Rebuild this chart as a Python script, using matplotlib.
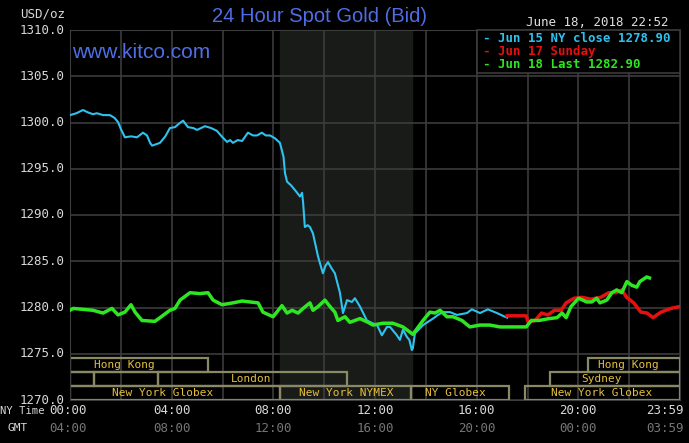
import matplotlib
matplotlib.use("Agg")
import matplotlib.pyplot as plt
from matplotlib.patches import Rectangle

# ---------------- data ----------------
jun15_hours = [0.00, 0.25, 0.51, 0.70, 0.90, 1.06, 1.30, 1.57, 1.75, 1.89, 2.00, 2.16, 2.40, 2.64,
               2.87, 3.03, 3.15, 3.23, 3.54, 3.75, 3.93, 4.13, 4.30, 4.45, 4.64, 4.85, 5.00, 5.31,
               5.55, 5.78, 6.00, 6.18, 6.30, 6.41, 6.60, 6.77, 7.00, 7.20, 7.36, 7.55, 7.70, 7.87,
               8.06, 8.26, 8.40, 8.46, 8.54, 8.70, 8.85, 9.05, 9.13, 9.17, 9.24, 9.35, 9.44, 9.56,
               9.76, 9.95, 10.05, 10.15, 10.30, 10.42, 10.62, 10.74, 10.90, 11.09, 11.21, 11.41,
               11.68, 11.90, 12.08, 12.27, 12.47, 12.59, 12.86, 12.98, 13.10, 13.26, 13.35, 13.45,
               13.49, 13.57, 13.89, 14.28, 14.48, 14.67, 14.95, 15.22, 15.62, 15.81, 16.13, 16.44,
               16.80, 17.11, 17.20]
jun15_prices = [1300.8, 1301.0, 1301.35, 1301.1, 1300.9, 1301.0, 1300.8, 1300.8, 1300.5, 1300.05,
                1299.3, 1298.4, 1298.5, 1298.4, 1298.9, 1298.6, 1297.8, 1297.5, 1297.8, 1298.5,
                1299.4, 1299.5, 1299.9, 1300.2, 1299.5, 1299.4, 1299.2, 1299.6, 1299.4, 1299.1,
                1298.4, 1297.9, 1298.1, 1297.8, 1298.1, 1298.0, 1298.9, 1298.6, 1298.6, 1298.9,
                1298.6, 1298.6, 1298.3, 1297.8, 1296.3, 1294.5, 1293.6, 1293.2, 1292.7, 1292.0,
                1292.4, 1291.4, 1288.7, 1288.9, 1288.7, 1288.0, 1285.5, 1283.7, 1284.5, 1284.9,
                1284.2, 1283.7, 1281.6, 1279.4, 1280.8, 1280.6, 1281.0, 1280.1, 1278.6, 1278.3,
                1278.1, 1277.0, 1277.9, 1277.9, 1277.0, 1276.5, 1277.6, 1276.8, 1276.5, 1275.4,
                1275.6, 1277.2, 1278.1, 1278.8, 1279.2, 1279.5, 1279.5, 1279.2, 1279.4, 1279.8,
                1279.4, 1279.8, 1279.4, 1279.0, 1278.9]

jun17_hours = [17.20, 17.95, 18.03, 18.30, 18.55, 18.80, 19.06, 19.32, 19.52, 19.83, 20.14, 20.49,
               20.88, 21.20, 21.48, 21.71, 21.90, 22.18, 22.46, 22.70, 22.94, 23.25, 23.64, 23.98]
jun17_prices = [1279.1, 1279.1, 1278.4, 1278.6, 1279.4, 1279.2, 1279.7, 1279.7, 1280.5, 1281.0,
                1281.1, 1280.9, 1281.1, 1281.6, 1281.6, 1281.9, 1281.1, 1280.5, 1279.5, 1279.4,
                1278.9, 1279.5, 1279.9, 1280.1]

jun18_hours = [0.00, 0.12, 0.90, 1.30, 1.65, 1.89, 2.16, 2.40, 2.56, 2.83, 3.34, 3.54, 3.93, 4.13,
               4.33, 4.72, 5.11, 5.43, 5.63, 5.98, 6.41, 6.77, 7.08, 7.40, 7.59, 7.99, 8.34, 8.54,
               8.74, 8.97, 9.17, 9.44, 9.56, 9.76, 10.03, 10.23, 10.42, 10.54, 10.82, 11.01, 11.41,
               11.72, 11.92, 12.31, 12.70, 13.10, 13.49, 13.89, 14.16, 14.36, 14.56, 14.83, 15.07,
               15.42, 15.73, 16.13, 16.52, 16.92, 17.95, 18.15, 18.46, 18.85, 19.16, 19.36, 19.52,
               19.71, 20.01, 20.33, 20.53, 20.72, 20.85, 21.12, 21.32, 21.51, 21.71, 21.91, 22.10,
               22.30, 22.42, 22.69, 22.80]
jun18_prices = [1279.7, 1279.9, 1279.7, 1279.4, 1279.9, 1279.2, 1279.5, 1280.3, 1279.5, 1278.6,
                1278.5, 1278.9, 1279.7, 1279.9, 1280.8, 1281.6, 1281.5, 1281.6, 1280.8, 1280.3,
                1280.5, 1280.7, 1280.6, 1280.5, 1279.5, 1279.0, 1280.2, 1279.4, 1279.7, 1279.4,
                1279.9, 1280.5, 1279.7, 1280.1, 1280.8, 1280.1, 1279.5, 1278.6, 1279.0, 1278.4,
                1278.8, 1278.4, 1278.1, 1278.3, 1278.3, 1277.9, 1277.1, 1278.6, 1279.5, 1279.4,
                1279.7, 1279.0, 1279.0, 1278.6, 1277.9, 1278.1, 1278.1, 1277.9, 1277.9, 1278.6,
                1278.6, 1278.8, 1278.9, 1279.4, 1278.9, 1280.1, 1281.0, 1280.6, 1280.6, 1281.0,
                1280.5, 1280.8, 1281.6, 1281.9, 1281.6, 1282.8, 1282.4, 1282.2, 1282.8, 1283.3,
                1283.2]

legend_labels = ["- Jun 15 NY close 1278.90", "- Jun 17 Sunday", "- Jun 18 Last 1282.90"]
y_ticks = [1270.0, 1275.0, 1280.0, 1285.0, 1290.0, 1295.0, 1300.0, 1305.0, 1310.0]
ny_tick_hours = [0, 4, 8, 12, 16, 20, 24]
ny_tick_labels = ["00:00", "04:00", "08:00", "12:00", "16:00", "20:00", "23:59"]
gmt_tick_labels = ["04:00", "08:00", "12:00", "16:00", "20:00", "00:00", "03:59"]
nymex_session = (8.26, 13.45)

# session boxes: row (0 top .. 2 bottom), start hour, end hour
session_rows = [0, 0, 1, 1, 1, 1, 2, 2, 2, 2]
session_starts = [0.0, 20.38, 0.0, 0.94, 3.46, 18.88, 0.0, 8.26, 13.43, 17.90]
session_ends = [5.43, 24.0, 0.94, 3.46, 10.90, 24.0, 8.26, 13.43, 17.27, 24.0]
session_label_text = ["Hong Kong", "Hong Kong", "London", "Sydney",
                      "New York Globex", "New York NYMEX", "NY Globex", "New York Globex"]
session_label_rows = [0, 0, 1, 1, 2, 2, 2, 2]
session_label_hours = [2.13, 21.95, 7.12, 20.90, 3.64, 10.86, 15.15, 20.90]

# ---------------- figure ----------------
W, H = 689, 443
fig = plt.figure(figsize=(W / 100, H / 100), dpi=100, facecolor="black")
L, R, T, B = 70, 680, 30, 400
ax = fig.add_axes([L / W, 1 - B / H, (R - L) / W, (B - T) / H])
ax.set_facecolor("black")
ax.set_xlim(0, 24)
ax.set_ylim(1270, 1310)

grid_c = "#3c3c3c"
ax.axvspan(*nymex_session, color="#191b19", zorder=0)
for h in range(0, 25, 2):
    ax.axvline(h, color=grid_c, lw=1.2, zorder=0.5)
for v in y_ticks:
    ax.axhline(v, color=grid_c, lw=1.2, zorder=0.5)
for s in ax.spines.values():
    s.set_color(grid_c)
ax.set_xticks([])
ax.set_yticks([])

# session boxes
row_h = 1.5
box_edge = "#8a8966"
txt_gold = "#e6bf3c"
mono = "DejaVu Sans Mono"
for r, s, e in zip(session_rows, session_starts, session_ends):
    y0 = 1270 + (2 - r) * row_h
    ax.add_patch(Rectangle((s, y0), e - s, row_h, fill=False, edgecolor=box_edge,
                           lw=1.6, zorder=1))
for lab, r, hx in zip(session_label_text, session_label_rows, session_label_hours):
    yc = 1270 + (2 - r) * row_h + row_h / 2
    ax.text(hx, yc, lab, color=txt_gold, fontsize=8, family=mono, ha="center",
            va="center", zorder=2)

# lines
ax.plot(jun15_hours, jun15_prices, color="#2ec2ee", lw=1.5, zorder=3)
ax.plot(jun17_hours, jun17_prices, color="#e51010", lw=2.5, zorder=4)
ax.plot(jun18_hours, jun18_prices, color="#2ee622", lw=2.5, zorder=5)

# legend box
lx0, ly0, lx1, ly1 = 477, 30, 680, 73
fig.patches.append(Rectangle((lx0 / W, 1 - ly1 / H), (lx1 - lx0) / W, (ly1 - ly0) / H,
                             transform=fig.transFigure, facecolor="black",
                             edgecolor=grid_c, lw=1.2, zorder=10))
leg_colors = ["#2ec2ee", "#e51010", "#2ee622"]
for i, (lab, c) in enumerate(zip(legend_labels, leg_colors)):
    fig.text(483 / W, 1 - (38 + 13.5 * i) / H, lab, color=c, fontsize=8.9, family=mono,
             fontweight="bold", ha="left", va="center", zorder=11)

# y tick labels
lab_c = "#d8d8d8"
for v in y_ticks:
    yp = T + (1310 - v) / 40 * (B - T)
    fig.text(65 / W, 1 - yp / H, f"{v:.1f}", color=lab_c, fontsize=9, family=mono,
             ha="right", va="center")
fig.text(65 / W, 1 - 14 / H, "USD/oz", color=lab_c, fontsize=9, family=mono,
         ha="right", va="center")

# x tick labels
for hx, nl, gl in zip(ny_tick_hours, ny_tick_labels, gmt_tick_labels):
    xp = L + hx / 24 * (R - L)
    if hx == 24:
        xp = 665
    elif hx == 0:
        xp = 68
    fig.text(xp / W, 1 - 411 / H, nl, color=lab_c, fontsize=9, family=mono,
             ha="center", va="center")
    fig.text(xp / W, 1 - 428 / H, gl, color="#767676", fontsize=9, family=mono,
             ha="center", va="center")
fig.text(0 / W, 1 - 411 / H, "NY Time", color=lab_c, fontsize=7.6, family=mono,
         ha="left", va="center")
fig.text(18 / W, 1 - 428 / H, "GMT", color=lab_c, fontsize=8, family=mono,
         ha="center", va="center")

# titles
blue = "#4f6ee6"
fig.text(320 / W, 1 - 17 / H, "24 Hour Spot Gold (Bid)", color=blue, fontsize=14.5,
         family="Liberation Sans", ha="center", va="center")
fig.text(72 / W, 1 - 52 / H, "www.kitco.com", color=blue, fontsize=15,
         family="Liberation Sans", ha="left", va="center", zorder=6)
fig.text(668 / W, 1 - 22 / H, "June 18, 2018 22:52", color="#e0e0e0", fontsize=9,
         family=mono, ha="right", va="center")

fig.savefig("out.png", dpi=100, facecolor="black")
